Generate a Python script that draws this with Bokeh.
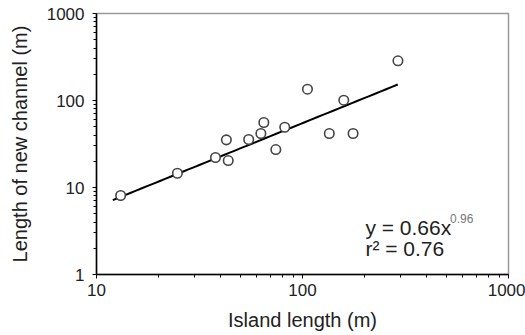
from bokeh.plotting import figure
from bokeh.models import Label, FixedTicker, CustomJSTickFormatter
from bokeh.embed import file_html
from bokeh.resources import INLINE
import numpy as np

# Data
island_length = [13.1, 24.7, 37.8, 42.7, 43.6, 54.8, 62.8, 64.9, 74.2, 82.0, 105.7, 134.9, 158.6, 176.0, 290.6]
channel_length = [8.1, 14.6, 22.1, 35.3, 20.4, 35.6, 41.8, 55.9, 27.3, 49.3, 134.9, 41.8, 100.8, 41.8, 285.9]

fit_a = 0.66
fit_b = 0.96
fit_x_range = [12, 290]
eq_text = "y = 0.66x"
eq_sup = "0.96"
r2_text = "r\u00b2 = 0.76"

x_major = [10, 100, 1000]
y_major = [1, 10, 100, 1000]

FONT = "Liberation Sans"


def minors(majors):
    return [m * k for m in majors[:-1] for k in range(2, 10)]


p = figure(frame_width=412, frame_height=261, x_axis_type="log", y_axis_type="log",
           x_range=(10, 1000), y_range=(1, 1000),
           output_backend="svg", toolbar_location=None,
           min_border_left=96, min_border_right=17, min_border_top=13, min_border_bottom=61)

p.xgrid.visible = False
p.ygrid.visible = False
p.outline_line_color = "#999999"
p.outline_line_width = 1.5
p.background_fill_color = "white"
p.border_fill_color = "white"

fx = np.logspace(np.log10(fit_x_range[0]), np.log10(fit_x_range[1]), 50)
fy = fit_a * fx ** fit_b
p.line(fx, fy, line_color="black", line_width=2)

p.scatter(island_length, channel_length, size=9.5, marker="circle",
          line_color="#444444", line_width=1.6, fill_color="white")

fmt = CustomJSTickFormatter(code="return String(Math.round(tick));")

for ax, majors in ((p.xaxis[0], x_major), (p.yaxis[0], y_major)):
    ax.ticker = FixedTicker(ticks=majors, minor_ticks=minors(majors))
    ax.formatter = fmt
    ax.axis_line_color = "black"
    ax.axis_line_width = 1.5
    ax.major_tick_line_color = "black"
    ax.minor_tick_line_color = "black"
    ax.major_tick_in = 0
    ax.major_tick_out = 4
    ax.minor_tick_in = 0
    ax.minor_tick_out = 3
    ax.major_label_text_font = FONT
    ax.major_label_text_font_size = "17px"
    ax.major_label_text_color = "#222222"
    ax.axis_label_text_font = FONT
    ax.axis_label_text_font_size = "20px"
    ax.axis_label_text_font_style = "normal"
    ax.axis_label_text_color = "#222222"

p.xaxis.axis_label = "Island length (m)"
p.yaxis.axis_label = "Length of new channel (m)"
p.xaxis.major_label_standoff = 5
p.xaxis.axis_label_standoff = 10
p.yaxis.major_label_standoff = 8
p.yaxis.axis_label_standoff = 13

p.add_layout(Label(x=202, y=3.47, text=eq_text, text_font=FONT, text_font_size="21px",
                   text_color="#222222", text_baseline="alphabetic"))
p.add_layout(Label(x=520, y=4.4, text=eq_sup, text_font=FONT, text_font_size="12px",
                   text_color="#777777", text_baseline="alphabetic"))
p.add_layout(Label(x=202, y=1.99, text=r2_text, text_font=FONT, text_font_size="21px",
                   text_color="#222222", text_baseline="alphabetic"))

open("out.html", "w").write(file_html(p, INLINE))
